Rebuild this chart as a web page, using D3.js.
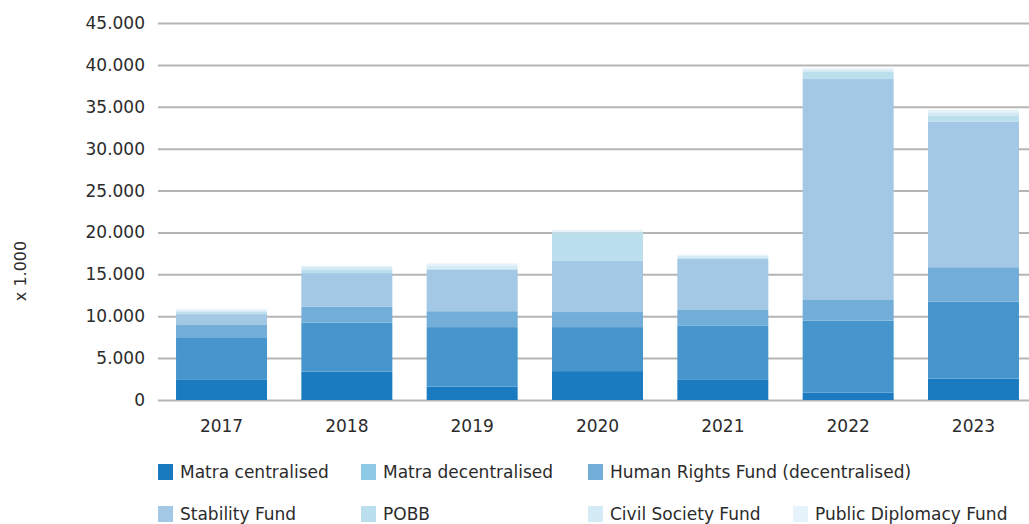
<!DOCTYPE html>
<html>
<head>
<meta charset="utf-8">
<script src="https://cdn.jsdelivr.net/npm/d3@7"></script>
<style>
  body { margin: 0; background: #fff; }
  svg text { font-family: "DejaVu Sans", sans-serif; fill: #2b2b2b; }
</style>
</head>
<body>
<div id="chart"></div>
<script>
// chart data, values x 1.000
const YEARS = ['2017', '2018', '2019', '2020', '2021', '2022', '2023'];
const SERIES = ['Matra centralised', 'Matra decentralised', 'Human Rights Fund (decentralised)',
  'Stability Fund', 'POBB', 'Civil Society Fund', 'Public Diplomacy Fund'];
const matraCentral   = [2400, 3400, 1600, 3450, 2400, 870, 2550];
const matraDecentral = [5000, 5850, 7100, 5250, 6450, 8600, 9200];
const humanRights    = [1550, 1900, 1900, 1800, 1900, 2470, 4100];
const stability      = [1300, 4000, 4950, 6100, 6100, 26370, 17350];
const pobb           = [250, 370, 100, 3400, 100, 850, 780];
const civilSociety   = [150, 360, 400, 100, 250, 240, 360];
const publicDiplo    = [200, 120, 250, 200, 150, 230, 300];
const Y_TICKS = [0, 5000, 10000, 15000, 20000, 25000, 30000, 35000, 40000, 45000];

const BAR_COLORS = ['#1a7bc0', '#4795cd', '#73aed9', '#a3c8e5', '#bcdfee', '#d4eaf5', '#e6f2fa'];
const LEGEND_COLORS = ['#1a7abf', '#8ecae6', '#73aed9', '#a3c8e5', '#bcdfee', '#d4eaf5', '#e6f3fa'];

// frame
const FRAME_WIDTH = 1029;
const FRAME_HEIGHT = 524;
const MARGINS = {left: 158, right: 0, top: 23, bottom: 124};

const svg = d3.select('#chart')
  .append('svg')
  .attr('width', FRAME_WIDTH)
  .attr('height', FRAME_HEIGHT);

// build table for the stack
const cols = [matraCentral, matraDecentral, humanRights, stability, pobb, civilSociety, publicDiplo];
const table = YEARS.map((yr, i) => {
  const row = {year: yr};
  SERIES.forEach((s, j) => { row[s] = cols[j][i]; });
  return row;
});
const stacked = d3.stack().keys(SERIES)(table);

// scales
const x = d3.scaleBand()
  .domain(YEARS)
  .range([166, 1029])
  .paddingInner(0.274)
  .paddingOuter(0.08);

const y = d3.scaleLinear()
  .domain([0, 45000])
  .range([FRAME_HEIGHT - MARGINS.bottom, MARGINS.top]);

// gridlines + y labels
const yAxis = svg.append('g')
  .attr('transform', `translate(${MARGINS.left},0)`)
  .call(d3.axisLeft(y)
    .tickValues(Y_TICKS)
    .tickSize(-(FRAME_WIDTH - MARGINS.left))
    .tickPadding(13)
    .tickFormat(d => d === 0 ? '0' : d3.format(',')(d).replace(/,/g, '.')));
yAxis.select('.domain').remove();
yAxis.selectAll('.tick line').attr('stroke', '#b5b5b5').attr('stroke-width', 2);
yAxis.selectAll('.tick text').attr('font-size', 17).attr('fill', '#2b2b2b');

// bars
svg.append('g')
  .selectAll('g')
  .data(stacked)
  .join('g')
  .attr('fill', (d, i) => BAR_COLORS[i])
  .selectAll('rect')
  .data(d => d)
  .join('rect')
  .attr('x', d => x(d.data.year))
  .attr('y', d => y(d[1]))
  .attr('width', x.bandwidth())
  .attr('height', d => y(d[0]) - y(d[1]));

// x labels
const xAxis = svg.append('g')
  .attr('transform', `translate(0,${FRAME_HEIGHT - MARGINS.bottom})`)
  .call(d3.axisBottom(x).tickSize(0).tickPadding(20));
xAxis.select('.domain').remove();
xAxis.selectAll('.tick text').attr('font-size', 17).attr('fill', '#2b2b2b');

// y title
svg.append('text')
  .attr('transform', 'translate(26,271) rotate(-90)')
  .attr('text-anchor', 'middle')
  .attr('font-size', 16)
  .text('x 1.000');

// legend
const LEG_POS = [[158, 472], [361, 472], [588, 472], [158, 514], [361, 514], [588, 514], [793, 514]];
const legend = svg.append('g')
  .selectAll('g')
  .data(SERIES)
  .join('g')
  .attr('transform', (d, i) => `translate(${LEG_POS[i][0]},${LEG_POS[i][1]})`);
legend.append('rect')
  .attr('x', 0)
  .attr('y', -8)
  .attr('width', 15)
  .attr('height', 16)
  .attr('fill', (d, i) => LEGEND_COLORS[i]);
legend.append('text')
  .attr('x', 22)
  .attr('y', 0)
  .attr('dy', '0.35em')
  .attr('font-size', 17)
  .text(d => d);
</script>
</body>
</html>
